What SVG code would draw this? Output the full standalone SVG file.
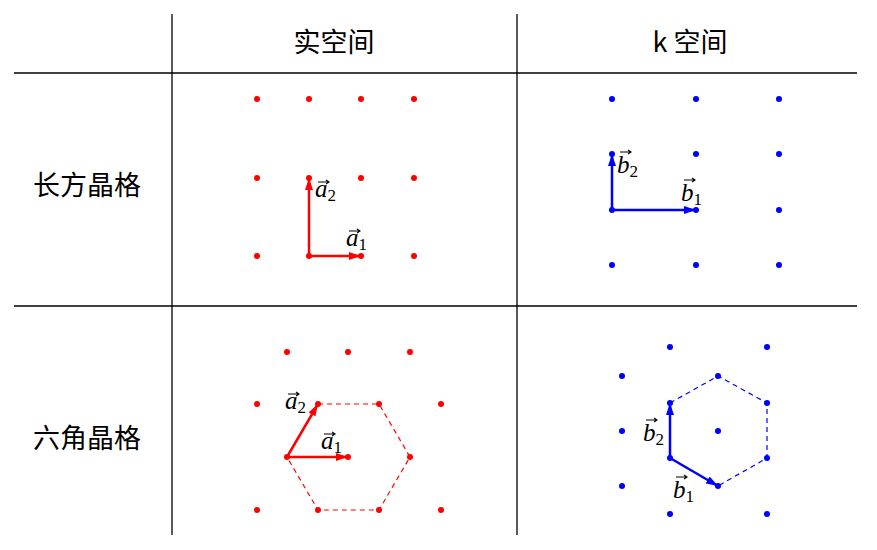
<svg xmlns="http://www.w3.org/2000/svg" width="877" height="550" viewBox="0 0 877 550">
<style>
.grid{stroke:#000;stroke-width:1.3;fill:none}
.hd{font-family:"Noto Sans CJK SC","Noto Sans",sans-serif;font-size:27px;fill:#000;text-anchor:middle}
.rd circle{fill:#f00}
.bl circle{fill:#00f}
.ra{stroke:#f00;stroke-width:2.5;fill:none}
.ba{stroke:#00f;stroke-width:2.5;fill:none}
.rdash{stroke:#f00;stroke-width:1.2;fill:none;stroke-dasharray:5,4}
.bdash{stroke:#00f;stroke-width:1.2;fill:none;stroke-dasharray:5,4}
.v{font-family:"Liberation Serif","DejaVu Serif",serif;font-style:italic;font-size:25px;fill:#000}
.s{font-family:"Liberation Serif","DejaVu Serif",serif;font-style:normal;font-size:17px;fill:#000}
.acc{stroke:#000;stroke-width:1.1;fill:none}
</style>
<defs>
<marker id="mr" markerWidth="12" markerHeight="8" refX="12" refY="4" orient="auto" markerUnits="userSpaceOnUse"><path d="M0,0 L12,4 L0,8 Z" fill="#f00"/></marker>
<marker id="mb" markerWidth="12" markerHeight="8" refX="12" refY="4" orient="auto" markerUnits="userSpaceOnUse"><path d="M0,0 L12,4 L0,8 Z" fill="#00f"/></marker>
</defs>
<rect width="877" height="550" fill="#fff"/>
<g id="table">
<line class="grid" x1="14" y1="73" x2="857" y2="73" stroke-width="1.6"/>
<line class="grid" x1="14" y1="306" x2="857" y2="306" stroke-width="1.6"/>
<line class="grid" x1="172" y1="14" x2="172" y2="535"/>
<line class="grid" x1="517" y1="14" x2="517" y2="535"/>
</g>
<g id="headers">
<text class="hd" x="334" y="52">实空间</text>
<text class="hd" x="690" y="52">k 空间</text>
<text class="hd" x="87" y="195">长方晶格</text>
<text class="hd" x="87" y="448">六角晶格</text>
</g>
<g id="rect-real" class="rd">
<circle cx="257" cy="99" r="3"/><circle cx="309" cy="99" r="3"/><circle cx="361" cy="99" r="3"/><circle cx="414" cy="99" r="3"/>
<circle cx="257" cy="178" r="3"/><circle cx="309" cy="178" r="3"/><circle cx="361" cy="178" r="3"/><circle cx="414" cy="178" r="3"/>
<circle cx="257" cy="256" r="3"/><circle cx="309" cy="256" r="3"/><circle cx="361" cy="256" r="3"/><circle cx="414" cy="256" r="3"/>
</g>
<g id="rect-k" class="bl">
<circle cx="612" cy="99" r="3"/><circle cx="696" cy="99" r="3"/><circle cx="779" cy="99" r="3"/>
<circle cx="612" cy="154" r="3"/><circle cx="696" cy="154" r="3"/><circle cx="779" cy="154" r="3"/>
<circle cx="612" cy="210" r="3"/><circle cx="696" cy="210" r="3"/><circle cx="779" cy="210" r="3"/>
<circle cx="612" cy="265" r="3"/><circle cx="696" cy="265" r="3"/><circle cx="779" cy="265" r="3"/>
</g>
<g id="hex-real" class="rd">
<circle cx="287" cy="352" r="3"/><circle cx="348" cy="352" r="3"/><circle cx="410" cy="352" r="3"/>
<circle cx="257" cy="404" r="3"/><circle cx="318" cy="404" r="3"/><circle cx="379" cy="404" r="3"/><circle cx="441" cy="404" r="3"/>
<circle cx="287" cy="457" r="3"/><circle cx="348" cy="457" r="3"/><circle cx="410" cy="457" r="3"/>
<circle cx="257" cy="510" r="3"/><circle cx="318" cy="510" r="3"/><circle cx="379" cy="510" r="3"/><circle cx="441" cy="510" r="3"/>
</g>
<g id="hex-k" class="bl">
<circle cx="670" cy="347" r="3"/><circle cx="767" cy="347" r="3"/>
<circle cx="622" cy="376" r="3"/><circle cx="718" cy="376" r="3"/>
<circle cx="670" cy="403" r="3"/><circle cx="767" cy="403" r="3"/>
<circle cx="622" cy="431" r="3"/><circle cx="718" cy="431" r="3"/>
<circle cx="670" cy="458" r="3"/><circle cx="767" cy="458" r="3"/>
<circle cx="622" cy="486" r="3"/><circle cx="718" cy="486" r="3"/>
<circle cx="670" cy="514" r="3"/><circle cx="767" cy="514" r="3"/>
</g>
<g id="connectors">
<line class="ra" x1="309" y1="256" x2="361" y2="256" marker-end="url(#mr)"/>
<line class="ra" x1="309" y1="256" x2="309" y2="178" marker-end="url(#mr)"/>
<line class="ba" x1="612" y1="210" x2="696" y2="210" marker-end="url(#mb)"/>
<line class="ba" x1="612" y1="210" x2="612" y2="154" marker-end="url(#mb)"/>
<path class="rdash" d="M318,404 L379,404 L410,457 L379,510 L318,510 L287,457"/>
<line class="ra" x1="287" y1="457" x2="348" y2="457" marker-end="url(#mr)"/>
<line class="ra" x1="287" y1="457" x2="318" y2="404" marker-end="url(#mr)"/>
<path class="bdash" d="M670,403 L718,376 L767,403 L767,458 L718,486"/>
<line class="ba" x1="670" y1="458" x2="670" y2="403" marker-end="url(#mb)"/>
<line class="ba" x1="670" y1="458" x2="718" y2="486" marker-end="url(#mb)"/>
</g>
<g id="labels">
<text class="v" x="315" y="197">a<tspan class="s" dy="4">2</tspan></text>
<path class="acc" d="M318,182 h11 m-3,-2 l3,2 l-3,2"/>
<text class="v" x="346" y="246">a<tspan class="s" dy="4">1</tspan></text>
<path class="acc" d="M349,231 h11 m-3,-2 l3,2 l-3,2"/>
<text class="v" x="617" y="173">b<tspan class="s" dy="4">2</tspan></text>
<path class="acc" d="M620,152 h11 m-3,-2 l3,2 l-3,2"/>
<text class="v" x="681" y="201">b<tspan class="s" dy="4">1</tspan></text>
<path class="acc" d="M684,180 h11 m-3,-2 l3,2 l-3,2"/>
<text class="v" x="285" y="409">a<tspan class="s" dy="4">2</tspan></text>
<path class="acc" d="M288,394 h11 m-3,-2 l3,2 l-3,2"/>
<text class="v" x="321" y="449">a<tspan class="s" dy="4">1</tspan></text>
<path class="acc" d="M324,434 h11 m-3,-2 l3,2 l-3,2"/>
<text class="v" x="643" y="441">b<tspan class="s" dy="4">2</tspan></text>
<path class="acc" d="M646,420 h11 m-3,-2 l3,2 l-3,2"/>
<text class="v" x="673" y="498">b<tspan class="s" dy="4">1</tspan></text>
<path class="acc" d="M676,477 h11 m-3,-2 l3,2 l-3,2"/>
</g>
</svg>
